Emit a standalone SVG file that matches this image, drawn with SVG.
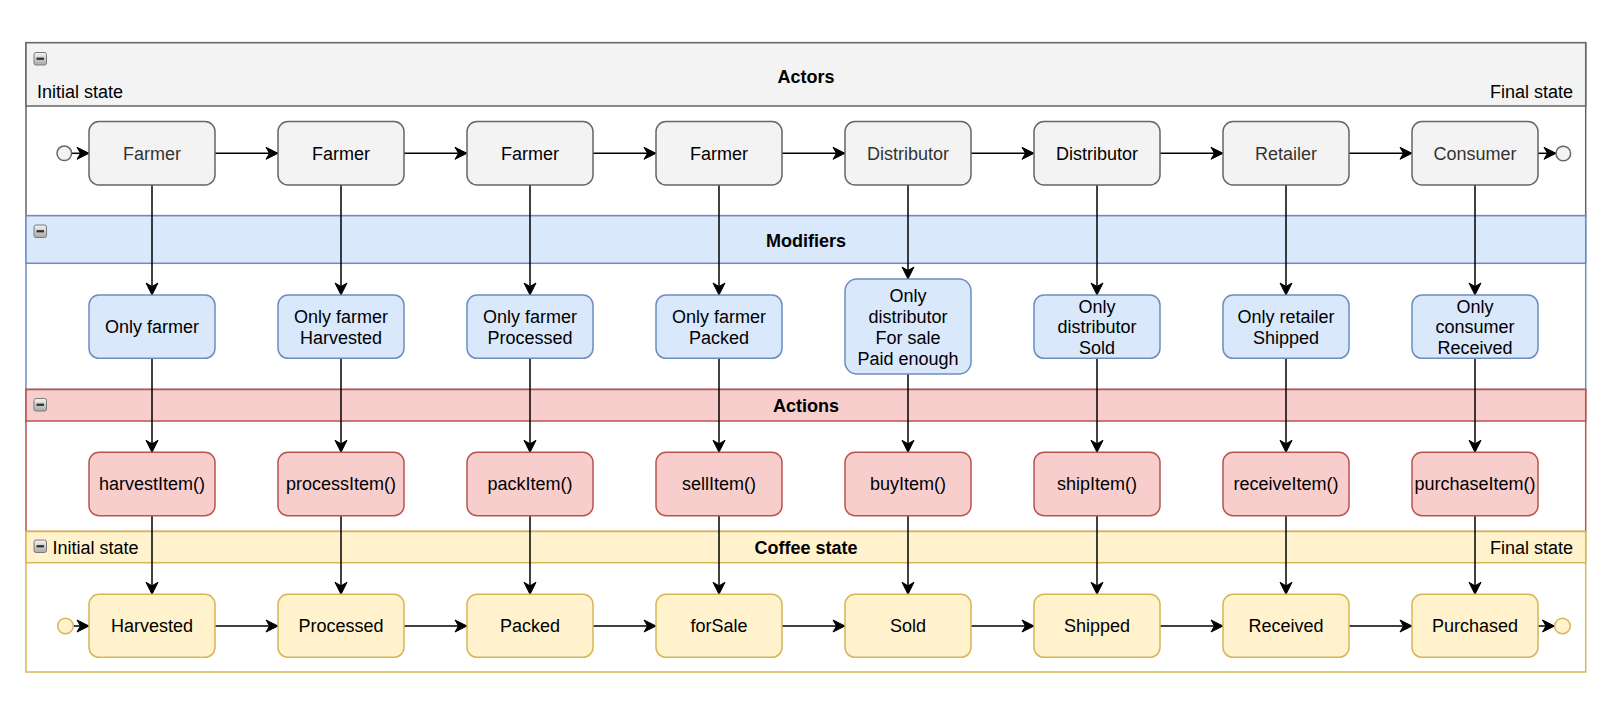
<svg xmlns="http://www.w3.org/2000/svg" xmlns:xlink="http://www.w3.org/1999/xlink" width="1618" height="702" viewBox="0 0 1618 702">
<style>
text{font-family:"Liberation Sans",Arial,Helvetica,sans-serif;font-size:18px;fill:#000}
.hdr{font-weight:bold;text-anchor:middle}
.c{text-anchor:middle}
.e{text-anchor:end}
.gt{fill:#333333}
.na{fill:#f3f3f3;stroke:#666666;stroke-width:1.5}
.nm{fill:#dae8fc;stroke:#6c8ebf;stroke-width:1.5}
.nr{fill:#f8cecc;stroke:#b85450;stroke-width:1.5}
.ny{fill:#fff2cc;stroke:#d6b656;stroke-width:1.5}
.edge{stroke:#000;stroke-width:1.5;fill:none;marker-end:url(#arr)}
</style>
<defs>
<marker id="arr" markerUnits="userSpaceOnUse" markerWidth="14" markerHeight="14" viewBox="0 0 14 14" refX="13" refY="7" orient="auto">
<path d="M1,1 L13,7 L1,13 L4.5,7 Z" fill="#000" stroke="#000" stroke-width="1"/>
</marker>
<linearGradient id="ig" x1="0" y1="0" x2="0" y2="1">
<stop offset="0" stop-color="#f4f4f4"/>
<stop offset="1" stop-color="#a9a9a9"/>
</linearGradient>
<g id="collapse">
<rect x="0.5" y="0.5" width="12.5" height="12.5" rx="2" fill="url(#ig)" stroke="#7a7a7a" stroke-width="1"/>
<rect x="3" y="5.6" width="7.5" height="2.3" fill="#333"/>
</g>
</defs>

<g id="lane-actors">
<rect x="26" y="42.7" width="1559.7" height="173" fill="#ffffff" stroke="#666666" stroke-width="1.5"/>
<rect x="26" y="42.7" width="1559.7" height="63.3" fill="#f3f3f3" stroke="#666666" stroke-width="1.5"/>
<use xlink:href="#collapse" x="33.5" y="52"/>
<text class="hdr" x="806" y="82.7">Actors</text>
<text x="37" y="98">Initial state</text>
<text class="e" x="1573" y="98">Final state</text>
</g>
<g id="lane-modifiers">
<rect x="26" y="215.7" width="1559.7" height="173.8" fill="#ffffff" stroke="#6c8ebf" stroke-width="1.5"/>
<rect x="26" y="215.7" width="1559.7" height="47.6" fill="#dae8fc" stroke="#6c8ebf" stroke-width="1.5"/>
<use xlink:href="#collapse" x="33.5" y="224.5"/>
<text class="hdr" x="806" y="246.5">Modifiers</text>
</g>
<g id="lane-actions">
<rect x="26" y="389.5" width="1559.7" height="142" fill="#ffffff" stroke="#b85450" stroke-width="1.5"/>
<rect x="26" y="389.5" width="1559.7" height="31.5" fill="#f8cecc" stroke="#b85450" stroke-width="1.5"/>
<use xlink:href="#collapse" x="33.5" y="398"/>
<text class="hdr" x="806" y="411.5">Actions</text>
</g>
<g id="lane-coffee">
<rect x="26" y="531.5" width="1559.7" height="140.5" fill="#ffffff" stroke="#d6b656" stroke-width="1.5"/>
<rect x="26" y="531.5" width="1559.7" height="31.2" fill="#fff2cc" stroke="#d6b656" stroke-width="1.5"/>
<use xlink:href="#collapse" x="33.5" y="539.5"/>
<text class="hdr" x="806" y="553.5">Coffee state</text>
<text x="52.5" y="554">Initial state</text>
<text class="e" x="1573" y="554">Final state</text>
</g>

<g id="connectors">
<path class="edge" d="M71.5,153.3 H89"/>
<path class="edge" d="M215,153.3 H278"/>
<path class="edge" d="M404,153.3 H467"/>
<path class="edge" d="M593,153.3 H656"/>
<path class="edge" d="M782,153.3 H845"/>
<path class="edge" d="M971,153.3 H1034"/>
<path class="edge" d="M1160,153.3 H1223"/>
<path class="edge" d="M1349,153.3 H1412"/>
<path class="edge" d="M1538,153.3 H1556"/>

<path class="edge" d="M152,185 V295"/>
<path class="edge" d="M341,185 V295"/>
<path class="edge" d="M530,185 V295"/>
<path class="edge" d="M719,185 V295"/>
<path class="edge" d="M908,185 V279"/>
<path class="edge" d="M1097,185 V295"/>
<path class="edge" d="M1286,185 V295"/>
<path class="edge" d="M1475,185 V295"/>

<path class="edge" d="M152,358.3 V452.3"/>
<path class="edge" d="M341,358.3 V452.3"/>
<path class="edge" d="M530,358.3 V452.3"/>
<path class="edge" d="M719,358.3 V452.3"/>
<path class="edge" d="M908,374 V452.3"/>
<path class="edge" d="M1097,358.3 V452.3"/>
<path class="edge" d="M1286,358.3 V452.3"/>
<path class="edge" d="M1475,358.3 V452.3"/>

<path class="edge" d="M152,515.7 V594.3"/>
<path class="edge" d="M341,515.7 V594.3"/>
<path class="edge" d="M530,515.7 V594.3"/>
<path class="edge" d="M719,515.7 V594.3"/>
<path class="edge" d="M908,515.7 V594.3"/>
<path class="edge" d="M1097,515.7 V594.3"/>
<path class="edge" d="M1286,515.7 V594.3"/>
<path class="edge" d="M1475,515.7 V594.3"/>

<path class="edge" d="M73.5,626 H89"/>
<path class="edge" d="M215,626 H278"/>
<path class="edge" d="M404,626 H467"/>
<path class="edge" d="M593,626 H656"/>
<path class="edge" d="M782,626 H845"/>
<path class="edge" d="M971,626 H1034"/>
<path class="edge" d="M1160,626 H1223"/>
<path class="edge" d="M1349,626 H1412"/>
<path class="edge" d="M1538,626 H1554.5"/>
</g>

<g id="actor-initial"><circle cx="64.3" cy="153.3" r="7.3" fill="#f3f3f3" stroke="#666666" stroke-width="1.5"/></g>
<g id="actor-final"><circle cx="1563.3" cy="153.5" r="7.3" fill="#f3f3f3" stroke="#666666" stroke-width="1.5"/></g>
<g id="state-initial"><circle cx="65.5" cy="626" r="7.8" fill="#fff2cc" stroke="#d6b656" stroke-width="1.5"/></g>
<g id="state-final"><circle cx="1562.5" cy="626" r="7.8" fill="#fff2cc" stroke="#d6b656" stroke-width="1.5"/></g>

<g id="actor-1"><rect class="na" x="89" y="121.5" width="126" height="63.5" rx="10"/><text class="c gt" x="152" y="159.5">Farmer</text></g>
<g id="actor-2"><rect class="na" x="278" y="121.5" width="126" height="63.5" rx="10"/><text class="c" x="341" y="159.5">Farmer</text></g>
<g id="actor-3"><rect class="na" x="467" y="121.5" width="126" height="63.5" rx="10"/><text class="c" x="530" y="159.5">Farmer</text></g>
<g id="actor-4"><rect class="na" x="656" y="121.5" width="126" height="63.5" rx="10"/><text class="c" x="719" y="159.5">Farmer</text></g>
<g id="actor-5"><rect class="na" x="845" y="121.5" width="126" height="63.5" rx="10"/><text class="c gt" x="908" y="159.5">Distributor</text></g>
<g id="actor-6"><rect class="na" x="1034" y="121.5" width="126" height="63.5" rx="10"/><text class="c" x="1097" y="159.5">Distributor</text></g>
<g id="actor-7"><rect class="na" x="1223" y="121.5" width="126" height="63.5" rx="10"/><text class="c gt" x="1286" y="159.5">Retailer</text></g>
<g id="actor-8"><rect class="na" x="1412" y="121.5" width="126" height="63.5" rx="10"/><text class="c gt" x="1475" y="159.5">Consumer</text></g>

<g id="mod-1"><rect class="nm" x="89" y="295" width="126" height="63.3" rx="10"/><text class="c" x="152" y="333">Only farmer</text></g>
<g id="mod-2"><rect class="nm" x="278" y="295" width="126" height="63.3" rx="10"/><text class="c" x="341" y="322.5">Only farmer</text><text class="c" x="341" y="343.5">Harvested</text></g>
<g id="mod-3"><rect class="nm" x="467" y="295" width="126" height="63.3" rx="10"/><text class="c" x="530" y="322.5">Only farmer</text><text class="c" x="530" y="343.5">Processed</text></g>
<g id="mod-4"><rect class="nm" x="656" y="295" width="126" height="63.3" rx="10"/><text class="c" x="719" y="322.5">Only farmer</text><text class="c" x="719" y="343.5">Packed</text></g>
<g id="mod-5"><rect class="nm" x="845" y="279" width="126" height="95" rx="12"/><text class="c" x="908" y="301.5">Only</text><text class="c" x="908" y="322.5">distributor</text><text class="c" x="908" y="343.5">For sale</text><text class="c" x="908" y="364.5">Paid enough</text></g>
<g id="mod-6"><rect class="nm" x="1034" y="295" width="126" height="63.3" rx="10"/><text class="c" x="1097" y="312.5">Only</text><text class="c" x="1097" y="333">distributor</text><text class="c" x="1097" y="353.5">Sold</text></g>
<g id="mod-7"><rect class="nm" x="1223" y="295" width="126" height="63.3" rx="10"/><text class="c" x="1286" y="322.5">Only retailer</text><text class="c" x="1286" y="343.5">Shipped</text></g>
<g id="mod-8"><rect class="nm" x="1412" y="295" width="126" height="63.3" rx="10"/><text class="c" x="1475" y="312.5">Only</text><text class="c" x="1475" y="333">consumer</text><text class="c" x="1475" y="353.5">Received</text></g>

<g id="act-1"><rect class="nr" x="89" y="452.3" width="126" height="63.4" rx="10"/><text class="c" x="152" y="490">harvestItem()</text></g>
<g id="act-2"><rect class="nr" x="278" y="452.3" width="126" height="63.4" rx="10"/><text class="c" x="341" y="490">processItem()</text></g>
<g id="act-3"><rect class="nr" x="467" y="452.3" width="126" height="63.4" rx="10"/><text class="c" x="530" y="490">packItem()</text></g>
<g id="act-4"><rect class="nr" x="656" y="452.3" width="126" height="63.4" rx="10"/><text class="c" x="719" y="490">sellItem()</text></g>
<g id="act-5"><rect class="nr" x="845" y="452.3" width="126" height="63.4" rx="10"/><text class="c" x="908" y="490">buyItem()</text></g>
<g id="act-6"><rect class="nr" x="1034" y="452.3" width="126" height="63.4" rx="10"/><text class="c" x="1097" y="490">shipItem()</text></g>
<g id="act-7"><rect class="nr" x="1223" y="452.3" width="126" height="63.4" rx="10"/><text class="c" x="1286" y="490">receiveItem()</text></g>
<g id="act-8"><rect class="nr" x="1412" y="452.3" width="126" height="63.4" rx="10"/><text class="c" x="1475" y="490">purchaseItem()</text></g>

<g id="state-1"><rect class="ny" x="89" y="594.3" width="126" height="63" rx="10"/><text class="c" x="152" y="632">Harvested</text></g>
<g id="state-2"><rect class="ny" x="278" y="594.3" width="126" height="63" rx="10"/><text class="c" x="341" y="632">Processed</text></g>
<g id="state-3"><rect class="ny" x="467" y="594.3" width="126" height="63" rx="10"/><text class="c" x="530" y="632">Packed</text></g>
<g id="state-4"><rect class="ny" x="656" y="594.3" width="126" height="63" rx="10"/><text class="c" x="719" y="632">forSale</text></g>
<g id="state-5"><rect class="ny" x="845" y="594.3" width="126" height="63" rx="10"/><text class="c" x="908" y="632">Sold</text></g>
<g id="state-6"><rect class="ny" x="1034" y="594.3" width="126" height="63" rx="10"/><text class="c" x="1097" y="632">Shipped</text></g>
<g id="state-7"><rect class="ny" x="1223" y="594.3" width="126" height="63" rx="10"/><text class="c" x="1286" y="632">Received</text></g>
<g id="state-8"><rect class="ny" x="1412" y="594.3" width="126" height="63" rx="10"/><text class="c" x="1475" y="632">Purchased</text></g>
</svg>
